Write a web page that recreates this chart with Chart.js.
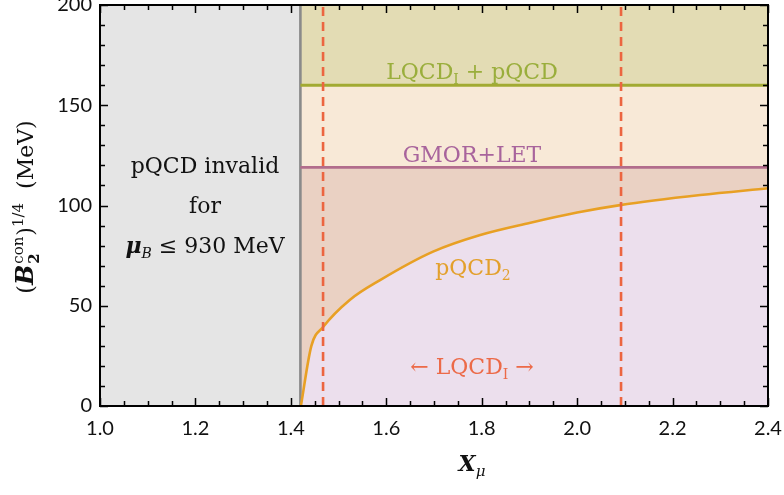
<!DOCTYPE html>
<html>
<head>
<meta charset="utf-8">
<script src="https://cdn.jsdelivr.net/npm/chart.js@4.4.1/dist/chart.umd.min.js"></script>
<style>
  html, body { margin: 0; padding: 0; background: #fff; }
  #wrap { width: 784px; height: 495px; }
</style>
</head>
<body>
<div id="wrap"><canvas id="chart" width="784" height="495"></canvas></div>
<script>
// pQCD_2 bound on the condensate bag constant vs X_mu
const curveX = [1.421, 1.443, 1.468, 1.524, 1.587, 1.698, 1.797, 1.90, 2.00, 2.09, 2.258, 2.40];
const curveY = [0, 30, 39.5, 53, 62.8, 77, 85.3, 91.3, 96.5, 100.2, 105.2, 108.6];

// horizontal bounds (MeV)
const gmorLevel = 119;
const lqcdLevel = 160;

// region where pQCD is not valid, and the dashed reference lines
const pqcdLimit = 1.42;
const dashedAt = [1.4675, 2.092];

const xMin = 1.0, xMax = 2.4, yMin = 0, yMax = 200;
const xTicks = [1.0, 1.2, 1.4, 1.6, 1.8, 2.0, 2.2, 2.4];
const yTicks = [0, 50, 100, 150, 200];
const xMinorStep = 0.05;
const yMinorStep = 10;

const serif = '"DejaVu Serif", "Liberation Serif", serif';
const sans = 'Lato, "Open Sans", sans-serif';

const curvePts = curveX.map((x, i) => ({ x: x, y: curveY[i] }));
const flat = (lvl) => [{ x: pqcdLimit, y: lvl }, { x: xMax, y: lvl }];

const datasets = [];
dashedAt.forEach(x => {
    datasets.push({
        data: [{ x: x, y: yMin }, { x: x, y: yMax }],
        borderColor: '#ec6540', borderWidth: 2.6, borderDash: [9, 6],
        fill: false
    });
});
datasets.push(
    { // pQCD_2 curve, area up to the GMOR line
        data: curvePts, borderColor: '#e8a024', borderWidth: 2.6,
        cubicInterpolationMode: 'monotone',
        fill: { value: gmorLevel }, backgroundColor: '#ead1c3'
    },
    { // same curve, area below it
        data: curvePts, borderWidth: 0, borderColor: 'rgba(0,0,0,0)',
        cubicInterpolationMode: 'monotone',
        fill: 'origin', backgroundColor: '#ecdfed'
    },
    { // GMOR+LET
        data: flat(gmorLevel), borderColor: '#b26d8c', borderWidth: 2.8,
        fill: { value: lqcdLevel }, backgroundColor: '#f8e9d7'
    },
    { // LQCD_I + pQCD
        data: flat(lqcdLevel), borderColor: '#a2aa32', borderWidth: 3,
        fill: 'end', backgroundColor: '#e3dcb4'
    },
    { // pQCD limit
        data: [{ x: pqcdLimit, y: yMin }, { x: pqcdLimit, y: yMax }],
        borderColor: '#8a8a8a', borderWidth: 2.6, fill: false
    },
    { // invalid region
        data: [{ x: xMin, y: yMax }, { x: pqcdLimit, y: yMax }],
        borderWidth: 0, borderColor: 'rgba(0,0,0,0)',
        fill: 'origin', backgroundColor: '#e5e5e5'
    }
);

// draw a run of text pieces, each with its own font, vertical offset and extra gap
function richText(ctx, parts, x, y, align) {
    const widthOf = p => { ctx.font = p.font; return ctx.measureText(p.t).width + (p.gap || 0); };
    let w = 0;
    parts.forEach(p => { w += widthOf(p); });
    const x0 = align === 'center' ? x - w / 2 : x;
    let cx = x0;
    parts.forEach(p => {
        ctx.font = p.font;
        ctx.fillText(p.t, cx + (p.gap || 0), y + (p.dy || 0));
        cx += widthOf(p);
    });
    return x0;
}

const overlay = {
    id: 'overlay',
    afterDatasetsDraw(chart) {
        const ctx = chart.ctx;
        const xs = chart.scales.x, ys = chart.scales.y;
        const a = chart.chartArea;
        ctx.save();

        // frame with inward ticks on all sides
        ctx.strokeStyle = '#000';
        ctx.lineWidth = 2;
        ctx.strokeRect(a.left, a.top, a.right - a.left, a.bottom - a.top);
        ctx.lineWidth = 1.5;
        ctx.beginPath();
        for (let v = xMin; v <= xMax + 1e-9; v += xMinorStep) {
            const major = Math.abs(v * 5 - Math.round(v * 5)) < 1e-6;
            const len = major ? 8 : 5;
            const px = Math.round(xs.getPixelForValue(v)) + 0.5;
            ctx.moveTo(px, a.bottom); ctx.lineTo(px, a.bottom - len);
            ctx.moveTo(px, a.top); ctx.lineTo(px, a.top + len);
        }
        for (let v = yMin; v <= yMax + 1e-9; v += yMinorStep) {
            const len = v % 50 === 0 ? 8 : 5;
            const py = Math.round(ys.getPixelForValue(v)) + 0.5;
            ctx.moveTo(a.left, py); ctx.lineTo(a.left + len, py);
            ctx.moveTo(a.right, py); ctx.lineTo(a.right - len, py);
        }
        ctx.stroke();

        // tick labels
        ctx.fillStyle = '#111';
        ctx.font = '20px ' + sans;
        ctx.textAlign = 'center';
        ctx.textBaseline = 'middle';
        xTicks.forEach(v => ctx.fillText(v.toFixed(1), xs.getPixelForValue(v), a.bottom + 23));
        ctx.textAlign = 'right';
        yTicks.forEach(v => ctx.fillText(String(v), a.left - 8, ys.getPixelForValue(v)));

        ctx.textBaseline = 'alphabetic';
        ctx.textAlign = 'left';
        const f = (px, style) => (style || '') + ' ' + px + 'px ' + serif;

        ctx.fillStyle = '#9aae3c';
        richText(ctx, [
            { t: 'LQCD', font: f(22) }, { t: 'I', font: f(14), dy: 5 },
            { t: ' + pQCD', font: f(22) }
        ], 472, 79, 'center');

        ctx.fillStyle = '#a8649c';
        richText(ctx, [{ t: 'GMOR+LET', font: f(22) }], 472, 162, 'center');

        ctx.fillStyle = '#e3a02c';
        richText(ctx, [
            { t: 'pQCD', font: f(22) }, { t: '2', font: f(14), dy: 5 }
        ], 473, 275, 'center');

        ctx.fillStyle = '#ec6a48';
        richText(ctx, [
            { t: '\u2190 LQCD', font: f(22) }, { t: 'I', font: f(14), dy: 5 },
            { t: ' \u2192', font: f(22) }
        ], 472, 374, 'center');

        ctx.fillStyle = '#111';
        richText(ctx, [{ t: 'pQCD invalid', font: f(22) }], 205, 173, 'center');
        richText(ctx, [{ t: 'for', font: f(22) }], 205, 213, 'center');
        richText(ctx, [
            { t: '\u03bc', font: f(22, 'italic bold') }, { t: 'B', font: f(14, 'italic'), dy: 5 },
            { t: ' \u2264 930 MeV', font: f(22) }
        ], 205, 253, 'center');

        // axis titles
        richText(ctx, [
            { t: 'X', font: f(22, 'italic bold') }, { t: '\u03bc', font: f(15, 'italic'), dy: 5 }
        ], 472, 471, 'center');

        ctx.translate(25, 207);
        ctx.rotate(-Math.PI / 2);
        const parts = [
            { t: '(', font: f(22) }, { t: 'B', font: f(24, 'italic bold') },
            { t: 'con', font: f(15), dy: -10, gap: 1 },
            { t: ')', font: f(22), gap: 1 }, { t: '1/4', font: f(15), dy: -10 },
            { t: '(MeV)', font: f(22), gap: 14 }
        ];
        const start = richText(ctx, parts, 0, 8, 'center');
        // subscript 2 below "con"
        ctx.font = parts[0].font;
        let pre = ctx.measureText('(').width;
        ctx.font = parts[1].font;
        pre += ctx.measureText('B').width + 1;
        ctx.font = f(15, 'bold');
        ctx.fillText('2', start + pre, 8 + 6);
        ctx.restore();
    }
};

new Chart(document.getElementById('chart'), {
    type: 'line',
    data: { datasets: datasets },
    options: {
        responsive: false,
        animation: false,
        events: [],
        layout: { padding: { left: 0, right: 16, top: 5, bottom: 0 } },
        elements: { point: { radius: 0 }, line: { tension: 0 } },
        plugins: {
            legend: { display: false },
            tooltip: { enabled: false },
            filler: { drawTime: 'beforeDatasetsDraw' }
        },
        scales: {
            x: {
                type: 'linear', min: xMin, max: xMax,
                afterFit: s => { s.height = 89; },
                grid: { display: false }, border: { display: false },
                ticks: { display: false }
            },
            y: {
                type: 'linear', min: yMin, max: yMax,
                afterFit: s => { s.width = 100; },
                grid: { display: false }, border: { display: false },
                ticks: { display: false }
            }
        }
    },
    plugins: [overlay]
});
</script>
</body>
</html>
